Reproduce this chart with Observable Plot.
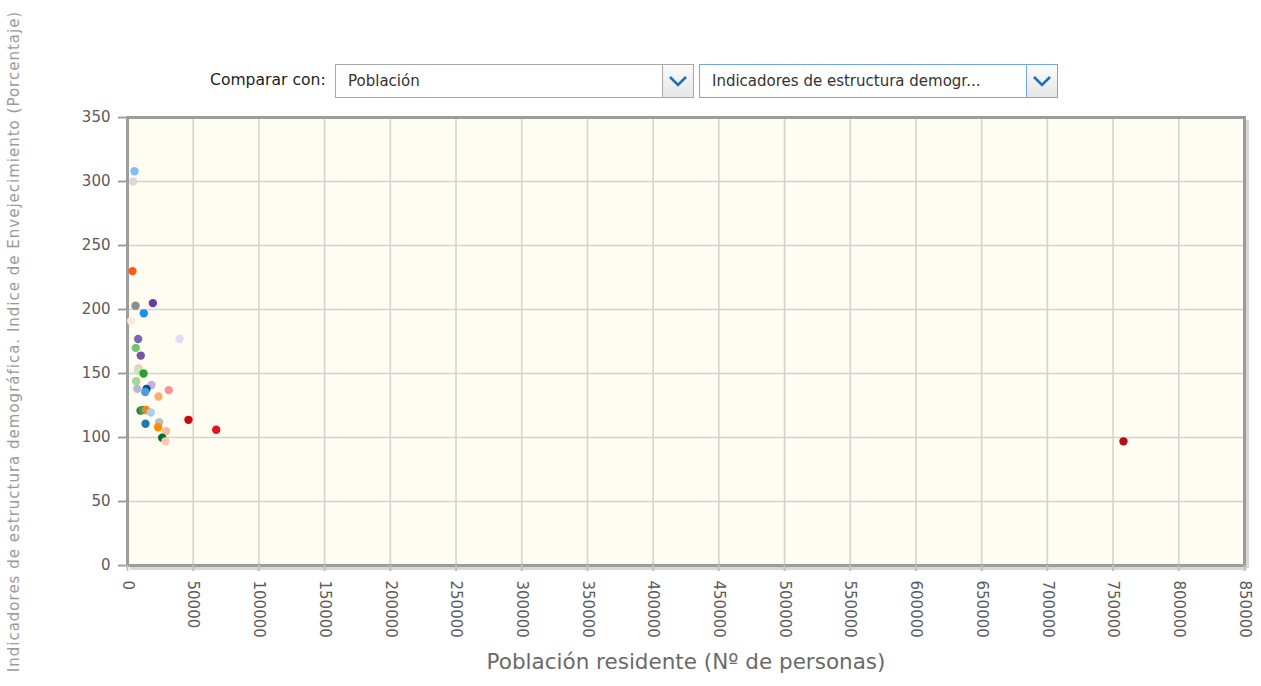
<!DOCTYPE html>
<html>
<head>
<meta charset="utf-8">
<script src="https://cdn.jsdelivr.net/npm/d3@7"></script>
<script src="https://cdn.jsdelivr.net/npm/@observablehq/plot@0.6"></script>
<style>
  html, body { margin: 0; padding: 0; background: #fff; }
  body { width: 1261px; height: 686px; overflow: hidden; position: relative; font-family: "DejaVu Sans", Verdana, sans-serif; }
  #chart { position: absolute; left: 0; top: 0; }
  .lbl { position: absolute; left: 210px; top: 71px; font-size: 15.6px; color: #222; }
  .sel { position: absolute; top: 64px; height: 34px; box-sizing: border-box; background: #fff; border: 1px solid #a8a8a8; font-size: 15px; color: #333; }
  .sel span { position: absolute; left: 12px; top: 7px; white-space: nowrap; }
  .sel .btn { position: absolute; right: 0; top: 0; width: 31px; height: 100%; box-sizing: border-box; border-left: 1px solid #a8a8a8; background: linear-gradient(#fbfbfb, #e6e6e6); }
  .sel.focus { border: 1.5px solid #6fa8e6; }
  .sel.focus .btn { border-left: 1.5px solid #6fa8e6; }
  .btn svg { position: absolute; left: 3px; top: 6px; }
</style>
</head>
<body>
<div id="chart"></div>
<div class="lbl">Comparar con:</div>
<div class="sel" style="left:335px;width:359px;"><span>Población</span><div class="btn"><svg width="24" height="20"><polyline points="4,6 12,14 20,6" fill="none" stroke="#1e70b8" stroke-width="2.6"/></svg></div></div>
<div class="sel focus" style="left:699px;width:359px;"><span>Indicadores de estructura demogr...</span><div class="btn"><svg width="24" height="20"><polyline points="4,6 12,14 20,6" fill="none" stroke="#1e70b8" stroke-width="2.6"/></svg></div></div>
<script>
// ---- Data ----
const categories = [
  "U01","U02","U03","U04","U05","U06","U07","U08","U09","U10",
  "U11","U12","U13","U14","U15","U16","U17","U18","U19","U20",
  "U21","U22","U23","U24","U25","U26","U27","U28","U29","U30",
  "U31","U32","U33","U34"
];
const poblacion = [
  5300, 4300, 3800, 6100, 19300, 12400, 2800, 8100, 39600, 6300,
  10100, 8400, 8000, 12200, 6600, 18300, 7400, 14500, 13500, 31400,
  23600, 9900, 11400, 14200, 17700, 13700, 24100, 23300, 29400, 46400,
  67500, 26400, 28900, 757900
];
const envejecimiento = [
  308, 300, 230, 203, 205, 197, 191, 177, 177, 170,
  164, 154, 152, 150, 144, 141, 138, 138, 135.5, 137,
  132, 121, 121.5, 121.5, 119.5, 110.7, 112, 108, 105, 113.8,
  106, 99.8, 97, 97
];
const palette = [
  "#80bdfb","#d9d9d9","#ff5b12","#8c8c8c","#6a3d9a","#1a8ff0","#fde9df","#7b68b0","#dedcf8","#74c476",
  "#7a52a8","#f6c6ae","#c7e9c0","#2ca02c","#a1d99b","#c6b3dc","#b8b4da","#08519c","#4a9de0","#f99393",
  "#fdae6b","#23783a","#31a354","#f5871f","#a9d0ee","#1f78b4","#bdbdbd","#ff8c00","#fcb9a0","#c80a0a",
  "#e0141e","#006d2c","#fdc9b2","#b10d1a"
];
const xTicks = [0,50000,100000,150000,200000,250000,300000,350000,400000,450000,500000,550000,600000,650000,700000,750000,800000,850000];
const yTicks = [0,50,100,150,200,250,300,350];
const xLabel = "Población residente (Nº de personas)";
const yLabel = "Indicadores de estructura demográfica. Indice de Envejecimiento (Porcentaje)";

const data = categories.map((c, i) => ({ name: c, x: poblacion[i], y: envejecimiento[i] }));

const chart = Plot.plot({
  width: 1261,
  height: 686,
  marginLeft: 127,
  marginRight: 17,
  marginTop: 117,
  marginBottom: 121,
  style: { fontFamily: "DejaVu Sans, Verdana, sans-serif", background: "transparent", overflow: "visible" },
  x: { domain: [0, 850000] },
  y: { domain: [0, 350] },
  color: { domain: categories, range: palette },
  marks: [
    Plot.frame({ fill: "#fffcf2", stroke: null }),
    Plot.gridX(xTicks, { stroke: "#d3d3d3", strokeOpacity: 1, strokeWidth: 1.6 }),
    Plot.gridY(yTicks, { stroke: "#d3d3d3", strokeOpacity: 1, strokeWidth: 1.6 }),
    Plot.ruleX([850000], { dx: 3, dy: 3, stroke: "#d8d8d8", strokeWidth: 3 }),
    Plot.ruleY([0], { dy: 3, dx: 3, stroke: "#d8d8d8", strokeWidth: 3 }),
    Plot.frame({ stroke: "#9c9c9c", strokeWidth: 3 }),
    Plot.axisY(yTicks, { tickSize: 9, tickPadding: 8, fontSize: 15, fill: "#5a5a5a", stroke: "#a0a0a0", strokeWidth: 2, label: null }),
    Plot.axisX(xTicks, { tickSize: 6, tickPadding: 9, tickRotate: 90, fontSize: 15, fill: "#5a5a5a", stroke: "#c0c0c0", strokeWidth: 2, tickFormat: d => String(d), label: null }),
    Plot.dot(data, { x: "x", y: "y", fill: "name", r: 4.2, stroke: null }),
    Plot.text([xLabel], { frameAnchor: "bottom", dy: 103, fontSize: 21.5, fill: "#6a6a6a", textAnchor: "middle", text: d => d }),
    Plot.text([yLabel], { frameAnchor: "left", dx: -113, rotate: -90, fontSize: 15, fill: "#9a9a9a", textAnchor: "middle", text: d => d })
  ]
});
d3.select(chart).selectAll("text").filter(function () { return this.textContent === yLabel; }).style("letter-spacing", "1px");
document.getElementById("chart").appendChild(chart);
</script>
</body>
</html>
